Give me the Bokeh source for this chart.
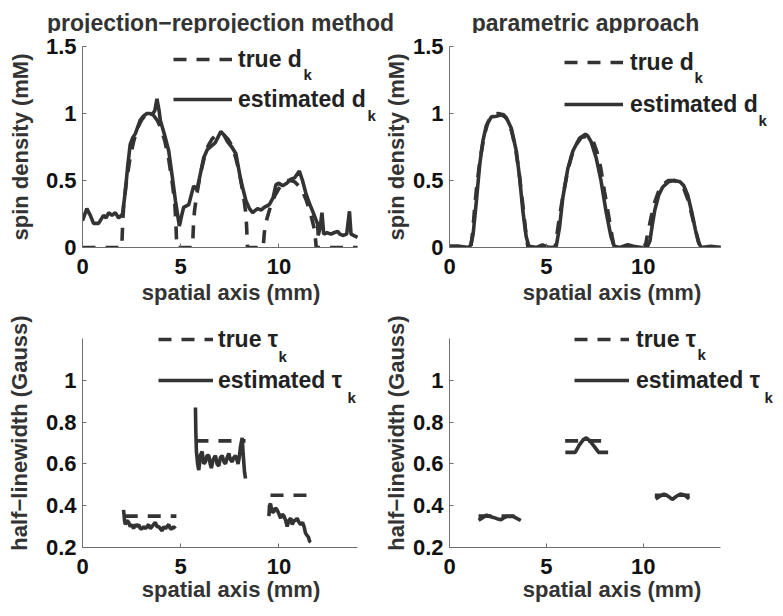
from bokeh.plotting import figure
from bokeh.layouts import gridplot, column
from bokeh.models import Range1d, FixedTicker, Legend, LegendItem, Label
from bokeh.embed import file_html
from bokeh.resources import INLINE

nan = float("nan")

# ---------------- data ----------------
# top-left: projection-reprojection, spin density
tl_true_x = [0, 1.0, 2.0, 2.05, 2.1, 2.2, 2.4, 2.6, 2.8, 3.0, 3.2, 3.4, 3.6, 3.8, 4.0, 4.2, 4.4, 4.6, 4.7, 4.75, 4.8,
             5.2, 5.6, 5.65, 5.7, 5.8, 6.0, 6.2, 6.4, 6.6, 6.8, 7.0, 7.2, 7.4, 7.6, 7.8, 8.0, 8.2, 8.3, 8.35, 8.4,
             8.8, 9.2, 9.25, 9.3, 9.4, 9.6, 9.8, 10.0, 10.2, 10.4, 10.6, 10.8, 11.0, 11.2, 11.4, 11.6, 11.8, 11.85, 11.9,
             13.0, 14.0]
tl_true_y = [0, 0, 0, 0.2, 0.32, 0.45, 0.65, 0.79, 0.89, 0.95, 0.99, 1.0, 0.99, 0.95, 0.89, 0.79, 0.65, 0.45, 0.32, 0.2, 0,
             0, 0, 0.17, 0.27, 0.38, 0.55, 0.67, 0.76, 0.81, 0.84, 0.85, 0.84, 0.81, 0.76, 0.67, 0.55, 0.38, 0.27, 0.17, 0,
             0, 0, 0.1, 0.16, 0.22, 0.32, 0.39, 0.44, 0.48, 0.5, 0.5, 0.49, 0.46, 0.42, 0.35, 0.26, 0.14, 0.08, 0,
             0, 0]
tl_est_x = [0, 0.22, 0.4, 0.56, 0.82, 1.07, 1.2, 1.33, 1.5, 1.67, 1.84, 2.04, 2.18, 2.31, 2.43, 2.56, 2.69, 2.94, 3.1,
            3.28, 3.45, 3.54, 3.68, 3.79, 3.9, 3.96, 4.18, 4.39, 4.56, 4.73, 4.93, 5.05, 5.15, 5.41, 5.66, 5.83, 6.0,
            6.17, 6.35, 6.51, 6.75, 7.04, 7.2, 7.38, 7.6, 7.81, 8.06, 8.32, 8.5, 8.66, 8.91, 9.1, 9.25, 9.51, 9.7,
            9.85, 10.0, 10.19, 10.4, 10.61, 10.8, 11.04, 11.2, 11.38, 11.55, 11.72, 11.97, 12.0, 12.1, 12.19, 12.28,
            12.45, 12.65, 12.8, 12.99, 13.1, 13.25, 13.45, 13.59, 13.67, 13.8, 14.0]
tl_est_y = [0.2, 0.29, 0.24, 0.18, 0.18, 0.24, 0.22, 0.26, 0.24, 0.26, 0.22, 0.25, 0.42, 0.62, 0.77, 0.82, 0.85, 0.95,
            0.98, 1.0, 1.0, 0.99, 1.02, 1.11, 1.02, 0.95, 0.84, 0.72, 0.54, 0.35, 0.16, 0.24, 0.30, 0.32, 0.46, 0.43,
            0.55, 0.67, 0.73, 0.75, 0.78, 0.865, 0.84, 0.79, 0.75, 0.70, 0.50, 0.35, 0.29, 0.26, 0.29, 0.28, 0.30,
            0.32, 0.37, 0.47, 0.48, 0.46, 0.48, 0.51, 0.52, 0.57, 0.5, 0.40, 0.33, 0.27, 0.175, 0.09, 0.15, 0.26,
            0.10, 0.11, 0.10, 0.11, 0.12, 0.1, 0.09, 0.1, 0.27, 0.10, 0.09, 0.075]

# top-right: parametric approach, spin density
tr_true_x = [0, 0.6, 1.1, 1.2, 1.3, 1.4, 1.6, 1.8, 2.0, 2.2, 2.5, 2.8, 3.0, 3.2, 3.4, 3.6, 3.8, 3.95, 4.05,
             4.8, 5.45, 5.55, 5.7, 5.9, 6.1, 6.3, 6.5, 6.8, 7.1, 7.4, 7.6, 7.8, 8.0, 8.2, 8.4, 8.5,
             9.3, 10.1, 10.2, 10.4, 10.6, 10.8, 11.0, 11.3, 11.6, 11.9, 12.1, 12.3, 12.5, 12.7, 12.85, 12.95,
             13.5, 14.0]
tr_true_y = [0, 0, 0, 0.12, 0.3, 0.45, 0.68, 0.84, 0.94, 0.99, 1.0, 0.99, 0.95, 0.87, 0.75, 0.55, 0.3, 0.1, 0,
             0, 0, 0.1, 0.25, 0.42, 0.57, 0.68, 0.76, 0.82, 0.83, 0.8, 0.72, 0.6, 0.42, 0.25, 0.08, 0,
             0, 0, 0.08, 0.22, 0.34, 0.42, 0.47, 0.5, 0.5, 0.48, 0.44, 0.36, 0.25, 0.13, 0.05, 0,
             0, 0]
tr_est_x = [0, 0.5, 1.0, 1.1, 1.22, 1.39, 1.56, 1.73, 1.9, 2.16, 2.42, 2.68, 2.93, 3.19, 3.45, 3.62, 3.79, 3.96,
            4.1, 4.5, 4.8, 5.1, 5.4, 5.51, 5.68, 5.85, 6.11, 6.37, 6.71, 7.02, 7.15, 7.31, 7.57, 7.82, 8.08, 8.34,
            8.5, 8.8, 9.2, 9.5, 9.9, 10.2, 10.35, 10.45, 10.6, 10.8, 11.0, 11.3, 11.6, 11.9, 12.1, 12.3, 12.5,
            12.7, 12.85, 13.0, 13.5, 14.0]
tr_est_y = [0.01, 0.01, 0.0, 0.02, 0.10, 0.35, 0.62, 0.80, 0.91, 0.975, 0.98, 0.99, 0.97, 0.89, 0.72, 0.52, 0.27,
            0.08, 0.01, 0.0, 0.02, 0.0, 0.0, 0.01, 0.15, 0.37, 0.59, 0.72, 0.815, 0.845, 0.83, 0.79, 0.67, 0.50,
            0.27, 0.08, 0.01, 0.0, 0.02, 0.01, 0.0, 0.0, 0.05, 0.15, 0.28, 0.39, 0.45, 0.49, 0.5, 0.49, 0.46, 0.39,
            0.27, 0.13, 0.04, 0.0, 0.01, 0.0]

# bottom-left: projection-reprojection, half-linewidth (segments separated by nan)
bl_true_x = [2.15, 4.78, nan, 5.75, 8.3, nan, 9.57, 11.6]
bl_true_y = [0.35, 0.35, nan, 0.71, 0.71, nan, 0.45, 0.45]
bl_est_x = [2.09, 2.14, 2.18, 2.26, 2.35, 2.43, 2.52, 2.6, 2.68, 2.77, 2.86, 2.94, 3.03, 3.11, 3.2, 3.28, 3.37,
            3.45, 3.54, 3.62, 3.71, 3.79, 3.88, 3.96, 4.05, 4.13, 4.22, 4.3, 4.39, 4.47, 4.56, 4.64, 4.73, nan,
            5.75, 5.77, 5.8, 5.86, 5.92, 6.0, 6.09, 6.17, 6.26, 6.34, 6.43, 6.5, 6.56, 6.65, 6.77, 6.85, 6.94,
            7.02, 7.11, 7.2, 7.28, 7.36, 7.45, 7.53, 7.62, 7.7, 7.79, 7.86, 7.92, 7.98, 8.04, 8.13, 8.17, 8.21,
            8.25, 8.3, nan,
            9.49, 9.52, 9.57, 9.65, 9.74, 9.82, 9.91, 10.0, 10.09, 10.17, 10.26, 10.34, 10.42, 10.51, 10.6,
            10.68, 10.77, 10.85, 10.93, 11.02, 11.11, 11.2, 11.28, 11.35, 11.41, 11.5, 11.56, 11.62]
bl_est_y = [0.38, 0.33, 0.31, 0.33, 0.32, 0.30, 0.31, 0.29, 0.31, 0.30, 0.31, 0.29, 0.29, 0.30, 0.29, 0.30, 0.31,
            0.29, 0.30, 0.31, 0.32, 0.30, 0.30, 0.29, 0.28, 0.30, 0.29, 0.30, 0.31, 0.29, 0.29, 0.30, 0.29, nan,
            0.87, 0.75, 0.66, 0.60, 0.57, 0.64, 0.66, 0.60, 0.61, 0.64, 0.64, 0.60, 0.58, 0.62, 0.64, 0.60, 0.59,
            0.63, 0.64, 0.61, 0.60, 0.63, 0.65, 0.62, 0.61, 0.63, 0.64, 0.62, 0.60, 0.63, 0.68, 0.725, 0.66, 0.61,
            0.56, 0.53, nan,
            0.35, 0.40, 0.41, 0.37, 0.37, 0.39, 0.38, 0.36, 0.34, 0.36, 0.35, 0.33, 0.30, 0.33, 0.34, 0.31, 0.33,
            0.33, 0.34, 0.32, 0.31, 0.32, 0.30, 0.27, 0.26, 0.25, 0.23, 0.225]

# bottom-right: parametric approach, half-linewidth
br_true_x = [1.5, 3.7, nan, 5.97, 8.2, nan, 10.6, 12.4]
br_true_y = [0.35, 0.35, nan, 0.71, 0.71, nan, 0.45, 0.45]
br_est_x = [1.5, 1.75, 1.92, 2.1, 2.26, 2.45, 2.66, 2.8, 2.95, 3.1, 3.3, 3.5, 3.68, nan,
            5.98, 6.25, 6.49, 6.7, 6.9, 7.06, 7.25, 7.5, 7.7, 7.95, 8.19, nan,
            10.64, 10.85, 11.07, 11.3, 11.5, 11.72, 11.93, 12.15, 12.37]
br_est_y = [0.33, 0.345, 0.355, 0.348, 0.344, 0.338, 0.333, 0.342, 0.348, 0.348, 0.348, 0.338, 0.329, nan,
            0.655, 0.655, 0.655, 0.69, 0.715, 0.725, 0.71, 0.68, 0.655, 0.655, 0.655, nan,
            0.432, 0.445, 0.456, 0.445, 0.43, 0.445, 0.456, 0.45, 0.432]

x_span = (0, 14)
d_span = (0, 1.5)
tau_span = (0.2, 1.2)
x_ticks = [0, 5, 10]
d_ticks = [0, 0.5, 1, 1.5]
d_tick_labels = ["0", "0.5", "1", "1.5"]
tau_ticks = [0.2, 0.4, 0.6, 0.8, 1.0]
tau_tick_labels = ["0.2", "0.4", "0.6", "0.8", "1"]

titles = ["projection\u2212reprojection method", "parametric approach"]

# ---------------- styling ----------------
FONT = "Liberation Sans"
LINE_COLOR = "#333333"
AXIS_COLOR = "#6e6e6e"
DASH = "13 10"
LW = 3.6


def make_panel(width, height, left, top, data_w, data_h, extra_r, extra_t,
               yspan, yticks, ylabels, ylab,
               tx, ty, ex, ey, sym, leg, subs, xlab_standoff, ylab_standoff):
    bottom = height - top - data_h - extra_t
    right = width - left - data_w - extra_r
    # frame is widened to the right/top so the legend is not clipped;
    # the axes themselves stay bounded to the data span
    x_end = x_span[1] + extra_r * (x_span[1] - x_span[0]) / data_w
    y_end = yspan[1] + extra_t * (yspan[1] - yspan[0]) / data_h
    p = figure(width=width, height=height, output_backend="svg", toolbar_location=None,
               x_range=Range1d(x_span[0], x_end), y_range=Range1d(yspan[0], y_end),
               min_border_left=left, min_border_right=right,
               min_border_top=top, min_border_bottom=bottom,
               outline_line_color=None, background_fill_color="white",
               border_fill_color="white")
    p.grid.visible = False
    for ax in (p.xaxis[0], p.yaxis[0]):
        ax.axis_line_color = AXIS_COLOR
        ax.major_tick_line_color = AXIS_COLOR
        ax.major_tick_in = 4
        ax.major_tick_out = 0
        ax.minor_tick_line_color = None
        ax.major_label_text_font = FONT
        ax.major_label_text_font_size = "22px"
        ax.major_label_text_font_style = "bold"
        ax.major_label_text_color = "#111111"
        ax.axis_label_text_font = FONT
        ax.axis_label_text_font_size = "22px"
        ax.axis_label_text_font_style = "bold"
        ax.axis_label_text_color = "#333333"
    p.xaxis.bounds = x_span
    p.xaxis.ticker = FixedTicker(ticks=x_ticks)
    p.xaxis.major_label_standoff = 11
    p.xaxis.axis_label = "spatial axis (mm)"
    p.xaxis.axis_label_standoff = xlab_standoff
    p.yaxis.bounds = yspan
    p.yaxis.ticker = FixedTicker(ticks=yticks)
    p.yaxis.major_label_overrides = {t: l for t, l in zip(yticks, ylabels)}
    p.yaxis.major_label_standoff = 6
    p.yaxis.axis_label = ylab
    p.yaxis.axis_label_standoff = ylab_standoff

    r_true = p.line(tx, ty, line_color=LINE_COLOR, line_width=LW, line_dash=DASH)
    r_est = p.line(ex, ey, line_color=LINE_COLOR, line_width=LW)

    gx, gw, gap, vy, spacing = leg
    legend = Legend(items=[LegendItem(label="true " + sym, renderers=[r_true]),
                           LegendItem(label="estimated " + sym, renderers=[r_est])],
                    location=(gx, vy), glyph_width=gw, glyph_height=28, label_height=28,
                    label_standoff=gap, spacing=spacing, padding=0, margin=0,
                    border_line_alpha=0, background_fill_alpha=0,
                    label_text_font=FONT, label_text_font_size="23px",
                    label_text_font_style="bold", label_text_color="#222222")
    p.add_layout(legend)
    for (sx, sy) in subs:
        p.add_layout(Label(x=sx, y=sy, x_units="screen", y_units="screen", text="k",
                           text_font=FONT, text_font_size="15px", text_font_style="bold",
                           text_color="#222222", text_align="left", text_baseline="alphabetic"))
    return p


# title strip above the two columns
STRIP_H = 33
TITLE_BASELINE = 22  # px from the top of the page
strip = figure(width=775, height=STRIP_H, output_backend="svg", toolbar_location=None,
               title=None, x_range=Range1d(0, 1), y_range=Range1d(0, 1),
               min_border_left=0, min_border_right=0, min_border_top=0, min_border_bottom=0,
               x_axis_location=None, y_axis_location=None,
               outline_line_color=None, border_fill_color="white", background_fill_color="white")
strip.grid.visible = False
for tx_, text in zip([220, 585], titles):
    strip.add_layout(Label(x=tx_, y=STRIP_H - TITLE_BASELINE, x_units="screen", y_units="screen", text=text,
                           text_font=FONT, text_font_size="23px", text_font_style="bold",
                           text_color="#333333", text_align="center", text_baseline="alphabetic"))

TOP_FRAME = 46  # page y of the top-row frame's upper edge
p_tl = make_panel(380, 310 - STRIP_H, 82, TOP_FRAME - STRIP_H, 275, 247 - TOP_FRAME, 22, 0,
                  d_span, d_ticks, d_tick_labels,
                  "spin density (mM)", tl_true_x, tl_true_y, tl_est_x, tl_est_y,
                  "d", (91, 59, 6, 134, 12), [(221, 173), (285, 132)], 3, 10)
p_tr = make_panel(395, 310 - STRIP_H, 68, TOP_FRAME - STRIP_H, 272, 247 - TOP_FRAME, 54, 0,
                  d_span, d_ticks, d_tick_labels,
                  "spin density (mM)", tr_true_x, tr_true_y, tr_est_x, tr_est_y,
                  "d", (115, 59, 7, 129, 14), [(245, 170), (309, 127)], 3, 1)
p_bl = make_panel(380, 298, 82, 8, 275, 209, 22, 20, tau_span, tau_ticks, tau_tick_labels,
                  "half\u2212linewidth (Gauss)", bl_true_x, bl_true_y, bl_est_x, bl_est_y,
                  "\u03c4", (76, 55, 5, 153, 13), [(196, 191), (265, 150)], 0, 11)
p_br = make_panel(395, 298, 68, 8, 272, 209, 54, 20, tau_span, tau_ticks, tau_tick_labels,
                  "half\u2212linewidth (Gauss)", br_true_x, br_true_y, br_est_x, br_est_y,
                  "\u03c4", (125, 55, 7, 153, 13), [(248, 193), (315, 150)], 0, 1)

grid = gridplot([[p_tl, p_tr], [p_bl, p_br]], toolbar_location=None)
layout = column(strip, grid)

open("out.html", "w").write(file_html(layout, INLINE))
